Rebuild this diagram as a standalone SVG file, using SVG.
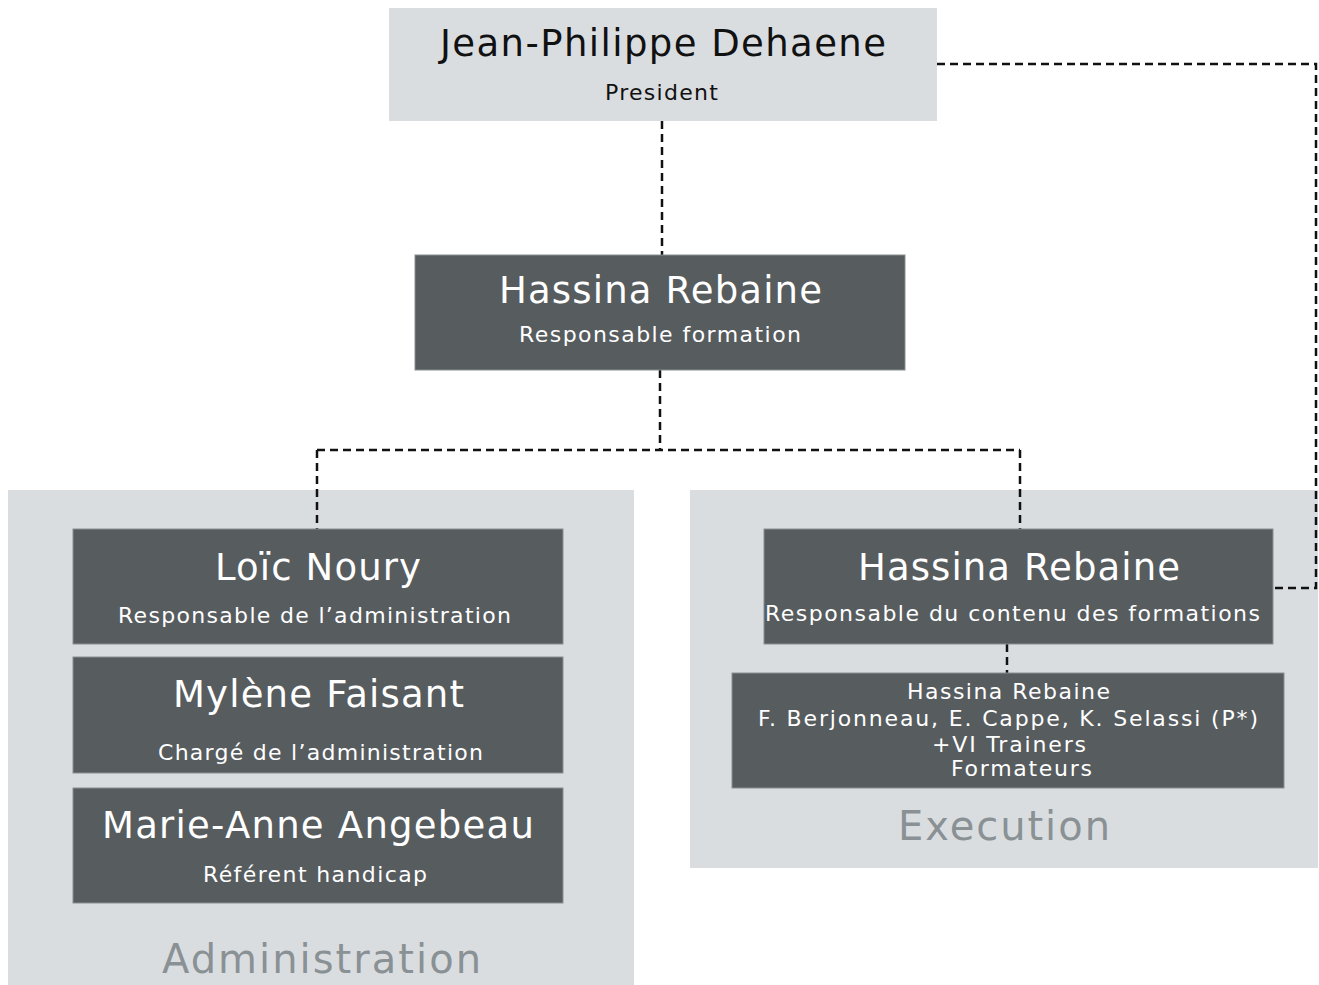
<svg xmlns="http://www.w3.org/2000/svg" width="1319" height="985" viewBox="0 0 1319 985">
<style>
.light{fill:#dadde0}
.dark{fill:#575c5f;stroke:#8a8f92;stroke-width:1}
text{font-family:"DejaVu Sans","Verdana",sans-serif;text-anchor:middle}
.nm{font-size:37px;fill:#ffffff}
.sb{font-size:22px;fill:#ffffff}
.nmk{font-size:37px;fill:#111111}
.sbk{font-size:22px;fill:#111111}
.grp{font-size:40px;fill:#8a9195}
.conn{fill:none;stroke:#111111;stroke-width:2.5;stroke-dasharray:8 5}
</style>
<rect width="1319" height="985" fill="#ffffff"/>
<g id="group-admin">
<rect class="light" x="8" y="490" width="626" height="495"/>
<text class="grp" x="321.5" y="973" textLength="319" lengthAdjust="spacing">Administration</text>
</g>
<g id="group-execution">
<rect class="light" x="690" y="490" width="628" height="378"/>
<text class="grp" x="1004" y="840" textLength="212" lengthAdjust="spacing">Execution</text>
</g>
<g id="connectors">
<path class="conn" d="M662 121 V255"/>
<path class="conn" d="M660 370 V450 M317 450 H1020 M317 450 V529 M1020 450 V529"/>
<path class="conn" d="M937 64 H1316 V588 H1273"/>
<path class="conn" d="M1007 644 V673"/>
</g>
<g id="president">
<rect class="light" x="389" y="8" width="548" height="113"/>
<text class="nmk" x="663" y="56" textLength="446" lengthAdjust="spacing">Jean-Philippe Dehaene</text>
<text class="sbk" x="661.5" y="100" textLength="113" lengthAdjust="spacing">President</text>
</g>
<g id="responsable-formation">
<rect class="dark" x="415" y="255" width="490" height="115"/>
<text class="nm" x="660.5" y="303" textLength="323" lengthAdjust="spacing">Hassina Rebaine</text>
<text class="sb" x="660" y="342" textLength="282" lengthAdjust="spacing">Responsable formation</text>
</g>
<g id="loic">
<rect class="dark" x="73" y="529" width="490" height="115"/>
<text class="nm" x="318" y="580" textLength="206" lengthAdjust="spacing">Loïc Noury</text>
<text class="sb" x="314.5" y="623" textLength="393" lengthAdjust="spacing">Responsable de l’administration</text>
</g>
<g id="mylene">
<rect class="dark" x="73" y="657" width="490" height="116"/>
<text class="nm" x="318.5" y="707" textLength="291" lengthAdjust="spacing">Mylène Faisant</text>
<text class="sb" x="320.5" y="760" textLength="325" lengthAdjust="spacing">Chargé de l’administration</text>
</g>
<g id="marie-anne">
<rect class="dark" x="73" y="788" width="490" height="115"/>
<text class="nm" x="318" y="838" textLength="432" lengthAdjust="spacing">Marie-Anne Angebeau</text>
<text class="sb" x="315" y="882" textLength="224" lengthAdjust="spacing">Référent handicap</text>
</g>
<g id="contenu">
<rect class="dark" x="764" y="529" width="509" height="115"/>
<text class="nm" x="1019" y="580" textLength="322" lengthAdjust="spacing">Hassina Rebaine</text>
<text class="sb" x="1012.5" y="621" textLength="495" lengthAdjust="spacing">Responsable du contenu des formations</text>
</g>
<g id="formateurs">
<rect class="dark" x="732" y="673" width="552" height="115"/>
<text class="sb" x="1008.5" y="699" textLength="203" lengthAdjust="spacing">Hassina Rebaine</text>
<text class="sb" x="1008" y="726" textLength="500" lengthAdjust="spacing">F. Berjonneau, E. Cappe, K. Selassi (P*)</text>
<text class="sb" x="1009" y="752" textLength="154" lengthAdjust="spacing">+VI Trainers</text>
<text class="sb" x="1021.5" y="776" textLength="141" lengthAdjust="spacing">Formateurs</text>
</g>
</svg>
